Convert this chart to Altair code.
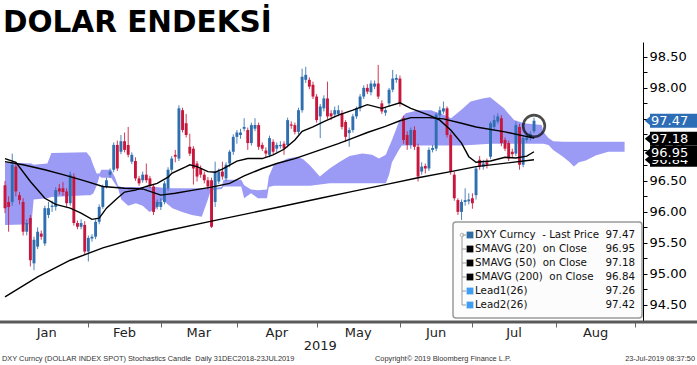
import altair as alt
import pandas as pd

# ---------------- data ----------------
TITLE = "DOLAR ENDEKSİ"
# trading-day index: -1 = 31 Dec 2018, 0 = 1 Jan 2019 ... 145 = 23 Jul 2019
days = list(range(-1, 146))

opens = [96.43, 96.16, 96.16, 96.73, 96.27, 96.16, 95.68, 95.90, 95.17, 95.44,
         95.65, 95.49, 95.95, 96.08, 96.08, 96.38, 96.38, 96.33, 96.14, 96.57,
         95.82, 95.76, 95.79, 95.36, 95.57, 95.60, 95.84, 96.08, 96.41, 96.60,
         96.68, 97.08, 96.97, 97.14, 97.08, 96.81, 96.82, 96.54, 96.51, 96.60,
         96.54, 96.41, 96.08, 96.08, 96.16, 96.38, 96.68, 96.92, 96.86, 97.64,
         97.43, 97.05, 97.02, 96.78, 96.70, 96.60, 96.51, 96.51, 96.16, 96.49,
         96.65, 96.54, 96.78, 96.97, 97.21, 97.24, 97.34, 97.32, 97.11, 97.34,
         97.40, 97.08, 96.99, 96.92, 97.13, 97.02, 97.06, 97.10, 97.08, 97.41,
         97.40, 97.29, 97.64, 98.13, 98.13, 98.05, 97.86, 97.54, 97.67, 97.83,
         97.59, 97.57, 97.58, 97.59, 97.45, 97.27, 97.32, 97.54, 97.67, 97.86,
         98.00, 97.93, 98.02, 98.07, 97.75, 97.60, 97.75, 97.97, 98.13, 98.15,
         97.51, 97.24, 97.08, 97.32, 97.05, 96.65, 96.74, 96.70, 97.00, 97.02,
         97.56, 97.62, 97.67, 97.24, 96.60, 96.19, 96.00, 96.16, 96.17, 96.22,
         96.27, 96.84, 96.73, 96.80, 96.89, 97.37, 97.455, 97.51, 97.16, 97.11,
         96.97, 96.94, 97.37, 96.76, 97.16, 97.20, 97.30]
closes = [96.06, 96.08, 96.76, 96.33, 96.19, 95.68, 95.82, 95.22, 95.55, 95.68,
          95.60, 96.06, 96.06, 96.10, 96.35, 96.33, 96.32, 96.14, 96.60, 95.82,
          95.76, 95.82, 95.36, 95.58, 95.60, 95.84, 96.08, 96.41, 96.51, 96.65,
          97.08, 96.70, 97.14, 97.00, 96.92, 96.92, 96.54, 96.46, 96.60, 96.51,
          96.42, 96.00, 96.16, 96.16, 96.46, 96.68, 96.86, 96.89, 97.67, 97.32,
          97.24, 96.94, 96.70, 96.57, 96.60, 96.51, 96.41, 95.76, 96.65, 96.65,
          96.57, 96.76, 96.97, 97.21, 97.28, 97.28, 97.37, 97.11, 97.40, 97.40,
          97.05, 97.02, 96.94, 97.19, 96.97, 97.08, 97.08, 97.02, 97.48, 97.39,
          97.29, 97.64, 98.18, 98.21, 98.02, 97.86, 97.48, 97.70, 97.83, 97.54,
          97.54, 97.64, 97.64, 97.37, 97.21, 97.32, 97.54, 97.67, 97.86, 98.00,
          97.94, 98.07, 98.07, 97.86, 97.62, 97.64, 97.97, 98.15, 98.16, 97.75,
          97.16, 97.08, 97.32, 97.05, 96.57, 96.73, 96.70, 97.00, 97.03, 97.57,
          97.64, 97.67, 97.24, 96.65, 96.22, 96.00, 96.16, 96.19, 96.20, 96.14,
          96.70, 96.73, 96.78, 96.76, 97.43, 97.48, 97.54, 97.11, 97.02, 96.86,
          96.93, 97.40, 96.76, 97.19, 97.20, 97.26, 97.47]
highs = [96.50, 96.25, 96.94, 96.80, 96.32, 96.22, 95.88, 95.95, 95.60, 95.75,
         95.70, 96.10, 96.16, 96.18, 96.40, 96.45, 96.48, 96.38, 96.65, 96.62,
         95.86, 95.88, 95.85, 95.62, 95.64, 95.88, 96.12, 96.44, 96.55, 96.70,
         97.12, 97.15, 97.24, 97.28, 97.37, 96.96, 96.88, 96.58, 96.65, 96.78,
         96.58, 96.44, 96.20, 96.22, 96.50, 96.72, 96.90, 97.00, 97.72, 97.68,
         97.58, 97.26, 97.06, 96.82, 96.75, 96.65, 96.56, 96.55, 96.81, 96.70,
         96.81, 96.80, 97.00, 97.25, 97.32, 97.34, 97.51, 97.36, 97.44, 97.51,
         97.44, 97.12, 97.04, 97.23, 97.17, 97.12, 97.14, 97.14, 97.52, 97.46,
         97.44, 97.68, 98.31, 98.34, 98.17, 98.10, 97.90, 97.74, 97.88, 98.10,
         97.64, 97.70, 97.72, 97.64, 97.48, 97.36, 97.58, 97.70, 97.90, 98.04,
         98.06, 98.12, 98.12, 98.37, 97.80, 97.68, 98.00, 98.29, 98.22, 98.20,
         97.55, 97.30, 97.36, 97.38, 97.10, 96.80, 96.78, 97.04, 97.08, 97.60,
         97.70, 97.78, 97.70, 97.28, 96.65, 96.22, 96.20, 96.38, 96.30, 96.30,
         96.74, 96.90, 96.84, 96.86, 97.46, 97.56, 97.59, 97.56, 97.20, 97.15,
         97.02, 97.46, 97.42, 97.23, 97.26, 97.30, 97.52]
lows = [95.98, 95.68, 96.10, 96.25, 96.12, 95.62, 95.62, 95.12, 95.06, 95.40,
        95.55, 95.45, 95.90, 96.00, 96.02, 96.28, 96.26, 96.08, 96.10, 95.78,
        95.72, 95.72, 95.32, 95.20, 95.52, 95.56, 95.80, 96.05, 96.38, 96.55,
        96.64, 96.66, 96.93, 96.96, 96.88, 96.77, 96.50, 96.42, 96.47, 96.47,
        96.38, 95.95, 96.04, 96.03, 96.12, 96.34, 96.64, 96.80, 96.82, 97.28,
        97.20, 96.90, 96.44, 96.49, 96.55, 96.46, 96.36, 95.74, 96.08, 96.45,
        96.52, 96.50, 96.72, 96.92, 97.10, 97.18, 97.30, 97.00, 97.07, 97.30,
        97.00, 96.98, 96.88, 96.88, 96.93, 96.96, 97.02, 96.92, 97.04, 97.34,
        97.25, 97.25, 97.60, 98.08, 97.98, 97.82, 97.44, 97.19, 97.62, 97.50,
        97.48, 97.52, 97.54, 97.33, 97.13, 97.05, 97.28, 97.50, 97.62, 97.82,
        97.90, 97.88, 97.98, 97.82, 97.58, 97.55, 97.70, 97.93, 98.08, 97.70,
        97.10, 97.00, 97.02, 97.00, 96.49, 96.60, 96.62, 96.66, 96.96, 96.98,
        97.50, 97.58, 97.20, 96.60, 96.18, 95.95, 95.87, 96.10, 96.12, 96.05,
        96.20, 96.68, 96.68, 96.70, 96.85, 97.33, 97.42, 97.06, 96.98, 96.82,
        96.88, 96.90, 96.68, 96.72, 97.12, 97.15, 97.27]

sma20_day = [-1, 2, 6, 10, 13, 17, 20, 23, 25, 27, 30, 32, 35, 38, 41, 44, 45, 49, 50, 52,
             55, 57, 59, 63, 66, 70, 73, 76, 79, 81, 84, 87, 91, 95, 99, 103, 108, 111, 116, 119,
             122, 125, 127, 129, 133, 137, 140, 143, 145]
sma20_val = [96.86, 96.80, 96.49, 96.22, 96.12, 96.06, 95.98, 95.88, 95.90, 96.06,
             96.22, 96.32, 96.35, 96.41, 96.46, 96.56, 96.62, 96.73, 96.76, 96.73,
             96.65, 96.64, 96.69, 96.82, 96.86, 96.86, 96.92, 97.01, 97.16, 97.30,
             97.37, 97.455, 97.56, 97.64, 97.73, 97.67, 97.76, 97.67, 97.56, 97.48,
             97.32, 97.11, 96.89, 96.80, 96.82, 96.88, 96.87, 96.90, 96.97]
sma50_day = [-1, 4, 10, 15, 21, 26, 32, 37, 42, 46, 51, 56, 61, 65, 70, 74, 79, 83, 87, 91,
             95, 99, 104, 108, 111, 116, 120, 125, 129, 137, 145]
sma50_val = [96.81, 96.76, 96.68, 96.60, 96.50, 96.41, 96.38, 96.37, 96.27, 96.30,
             96.35, 96.40, 96.46, 96.58, 96.70, 96.78, 96.86, 96.94, 97.02, 97.10,
             97.19, 97.28, 97.38, 97.47, 97.52, 97.52, 97.50, 97.43, 97.37, 97.29, 97.19]
sma200_day = [-1, 8, 17, 26, 35, 44, 56, 65, 74, 86, 95, 104, 113, 122, 129, 145]
sma200_val = [94.63, 94.95, 95.22, 95.42, 95.57, 95.70, 95.85, 95.96, 96.07, 96.22,
              96.33, 96.44, 96.55, 96.65, 96.73, 96.84]

cloud_day = [-1, 6.3, 6.9, 10.7, 11.8, 21.5, 22.6, 23.4, 24.3, 25.1, 25.6, 28.3, 29.4, 30.2,
             31.1, 33, 35.1, 37, 38.9, 40.6, 42.5, 45.2, 47.9, 50.6, 53.3, 55, 55.8, 58.8,
             59.3, 64.2, 65, 66.9, 68.8, 71.3, 71.8, 73.2, 75.1, 77, 79.7, 81.3, 83.2, 85.9,
             88.6, 91.4, 94.1, 97.6, 100.3, 102.2, 104.1, 105, 105.8, 107.7, 108.5, 109.6,
             113.1, 116.6, 120.4, 122.1, 124.8, 127.5, 130.8, 132.9, 136.7, 139.5, 142.2,
             147.1, 147.6, 149, 150.3, 153, 154.7, 156, 157.4, 159.3, 162, 165.5, 170]
cloud_top = [96.80, 96.78, 96.76, 96.78, 96.95, 96.96, 96.88, 96.75, 96.62, 96.62, 96.68,
             96.68, 96.55, 96.42, 96.40, 96.40, 96.40, 96.40, 96.40, 96.40, 96.39, 96.38,
             96.38, 96.38, 96.38, 96.38, 96.38, 96.40, 96.52, 96.52, 96.43, 96.36, 96.35,
             96.36, 96.57, 96.76, 96.81, 96.86, 96.89, 96.85, 96.75, 96.57, 96.70, 96.81,
             96.90, 96.94, 96.92, 96.86, 96.92, 97.05, 97.16, 97.45, 97.52, 97.59, 97.64,
             97.64, 97.56, 97.51, 97.64, 97.78, 97.83, 97.85, 97.67, 97.48, 97.43, 97.40,
             97.29, 97.19, 97.14, 97.13, 97.13, 97.13, 97.13, 97.13, 97.13, 97.13, 97.13]
cloud_bottom = [95.79, 95.80, 96.20, 96.22, 96.24, 96.27, 96.27, 96.30, 96.42, 96.58, 96.55,
                96.55, 96.45, 96.38, 96.20, 96.10, 96.14, 96.10, 96.00, 96.05, 96.19, 96.06,
                96.00, 95.95, 95.92, 96.20, 96.35, 96.37, 96.41, 96.41, 96.22, 96.30, 96.22,
                96.22, 96.40, 96.42, 96.42, 96.42, 96.42, 96.42, 96.42, 96.44, 96.46, 96.46,
                96.46, 96.46, 96.46, 96.46, 96.46, 96.60, 96.80, 97.00, 97.07, 97.07, 97.07,
                97.07, 97.07, 97.07, 97.07, 97.08, 97.09, 97.10, 97.10, 97.10, 97.10, 97.10,
                97.10, 97.08, 97.00, 96.89, 96.81, 96.73, 96.80, 96.83, 96.91, 96.97, 96.97]

month_names = ["Jan", "Feb", "Mar", "Apr", "May", "Jun", "Jul", "Aug"]
month_end_day = [-1, 22, 42, 63, 85, 108, 128, 151, 173]   # last trading day of each month
year_label = "2019"

NB = "\u00a0"
legend_labels = ["DXY Curncy" + NB + " - Last Price",
                 "SMAVG (20)" + NB * 2 + "on Close",
                 "SMAVG (50)" + NB * 2 + "on Close",
                 "SMAVG (200)" + NB * 2 + "on Close",
                 "Lead1(26)", "Lead2(26)"]
legend_values = ["97.47", "96.95", "97.18", "96.84", "97.26", "97.42"]
legend_colors = ["#2e6da4", "#000000", "#000000", "#000000", "#3d9ef2", "#3d9ef2"]

tag_black_values = [96.84, 96.95, 97.18]

footer_left = "DXY Curncy (DOLLAR INDEX SPOT) Stochastics Candle" + NB * 2 + "Daily 31DEC2018-23JUL2019"
footer_mid = "Copyright\u00a9 2019 Bloomberg Finance L.P."
footer_right = "23-Jul-2019 08:37:50"

for arr in (opens, closes, highs, lows):
    assert len(arr) == len(days), len(arr)
assert len(sma20_day) == len(sma20_val)
assert len(sma50_day) == len(sma50_val)
assert len(sma200_day) == len(sma200_val)
assert len(cloud_day) == len(cloud_top) == len(cloud_bottom)

# ---------------- layout / style ----------------
W, H = 643, 279
BLUE, RED = "#2f6fb0", "#c8173d"
CLOUD = "#9b9bf6"
FONT = "DejaVu Sans"
LFONT = "Liberation Sans"

xscale = alt.Scale(domain=[-1, 173.7], nice=False, zero=False)
yscale = alt.Scale(domain=[94.24, 98.74], nice=False, zero=False)
xaxis = alt.Axis(values=month_end_day[1:], labels=False, ticks=True, tickSize=6,
                 tickColor="#666666", domain=False, grid=False, title=None)
yaxis = alt.Axis(orient="right", values=[94.5 + 0.25 * k for k in range(17)],
                 labelExpr="(datum.value * 4) % 2 == 0 ? format(datum.value, '.2f') : ''",
                 tickSize=4, tickColor="black", domainColor="black", domainWidth=1,
                 labelFont=FONT, labelFontSize=13, labelColor="black", labelPadding=2,
                 labelOverlap=False, grid=False, title=None)


def X(field):
    return alt.X(field, type="quantitative", scale=xscale, axis=xaxis, title=None)


def Y(field):
    return alt.Y(field, type="quantitative", scale=yscale, axis=yaxis, title=None)


def one(text):
    return alt.Chart(pd.DataFrame({"t": [text]}))


candles = pd.DataFrame({"day": days, "open": opens, "close": closes, "high": highs, "low": lows})
candles["dir"] = ["up" if c >= o else "down" for o, c in zip(opens, closes)]
dir_color = alt.Color("dir:N", scale=alt.Scale(domain=["up", "down"], range=[BLUE, RED]), legend=None)

cloud_df = pd.DataFrame({"day": cloud_day, "top": cloud_top, "bottom": cloud_bottom})
sma_df = pd.concat([
    pd.DataFrame({"s": "20", "day": sma20_day, "v": sma20_val}),
    pd.DataFrame({"s": "50", "day": sma50_day, "v": sma50_val}),
    pd.DataFrame({"s": "200", "day": sma200_day, "v": sma200_val}),
])

layers = []
layers.append(alt.Chart(cloud_df).mark_area(color=CLOUD, clip=True).encode(
    x=X("day"), y=Y("top"), y2="bottom"))
layers.append(alt.Chart(candles).mark_rule(strokeWidth=1, clip=True, opacity=0.85).encode(
    x=X("day"), y=Y("low"), y2="high", color=dir_color))
layers.append(alt.Chart(candles).mark_bar(size=2.9, clip=True).encode(
    x=X("day"), y=Y("open"), y2="close", color=dir_color))
layers.append(alt.Chart(sma_df).mark_line(color="black", strokeWidth=1.4, clip=True).encode(
    x=X("day"), y=Y("v"), detail="s:N"))

# highlight circle around the last candle
last = pd.DataFrame({"day": [days[-1]], "mid": [(opens[-1] + closes[-1]) / 2]})
layers.append(alt.Chart(last).mark_point(shape="circle", size=470, filled=False,
                                         stroke="black", strokeWidth=2.6).encode(
    x=X("day"), y=Y("mid")))

# bottom axis band and month labels
layers.append(one("").mark_rule(color="#5a5a5a", strokeWidth=3).encode(
    x=alt.value(0), x2=alt.value(697), y=alt.value(H + 1)))
mid_days = [(a + b) / 2 for a, b in zip(month_end_day[:-1], month_end_day[1:])]
months_df = pd.DataFrame({"m": month_names, "day": mid_days})
layers.append(alt.Chart(months_df).mark_text(font=FONT, fontSize=13, color="#222222",
                                              baseline="middle").encode(
    x=X("day"), y=alt.value(291), text="m:N"))
year_df = pd.DataFrame({"m": [year_label], "day": [(month_end_day[0] + month_end_day[-1]) / 2]})
layers.append(alt.Chart(year_df).mark_text(font=FONT, fontSize=13, color="#222222",
                                           baseline="middle").encode(
    x=X("day"), y=alt.value(304), text="m:N"))

# title and footer
layers.append(one(TITLE).mark_text(font=FONT, fontSize=29.5, fontWeight="bold", color="black",
                                   align="left", baseline="alphabetic").encode(
    x=alt.value(3), y=alt.value(-10), text="t:N"))
for txt, xx, al in [(footer_left, 2, "left"), (footer_mid, 443, "center"), (footer_right, 695, "right")]:
    layers.append(one(txt).mark_text(font=LFONT, fontSize=7.4, color="#333333", align=al,
                                     baseline="middle").encode(
        x=alt.value(xx), y=alt.value(317), text="t:N"))

# legend box
LX0, LX1, LY0, LY1 = 453, 642, 180, 276
layers.append(one("").mark_rect(fill="#fcfcfc", stroke="#9a9a9a", strokeWidth=1.5,
                                cornerRadius=3).encode(
    x=alt.value(LX0), x2=alt.value(LX1), y=alt.value(LY0), y2=alt.value(LY1)))
row_y = [LY0 + 13 + 14 * k for k in range(len(legend_labels))]
layers.append(one("").mark_rule(color="#9a9a9a", strokeWidth=1).encode(
    x=alt.value(462), y=alt.value(row_y[0] + 2), y2=alt.value(row_y[-1])))
layers.append(one("").mark_point(shape="circle", size=14, filled=False, color="#9a9a9a",
                                 strokeWidth=1).encode(x=alt.value(462), y=alt.value(row_y[0])))
for lab, val, col, ry in zip(legend_labels, legend_values, legend_colors, row_y):
    layers.append(one("").mark_rule(color="#9a9a9a", strokeWidth=1).encode(
        x=alt.value(462), x2=alt.value(466), y=alt.value(ry)))
    layers.append(one("").mark_square(size=46, color=col, opacity=1).encode(
        x=alt.value(470), y=alt.value(ry)))
    layers.append(one(lab).mark_text(font=FONT, fontSize=10.3, color="#111111", align="left",
                                     baseline="middle").encode(
        x=alt.value(475), y=alt.value(ry), text="t:N"))
    layers.append(one(val).mark_text(font=FONT, fontSize=10.3, color="#111111", align="right",
                                     baseline="middle").encode(
        x=alt.value(635), y=alt.value(ry), text="t:N"))

# price tags on the right axis
ARROW = "M 0.6 -1 L -0.6 0 L 0.6 1 Z"


def tag(value, color):
    d = pd.DataFrame({"v": [value], "lbl": [f"{value:.2f}"]})
    base = alt.Chart(d)
    return [
        base.mark_rule(color=color, strokeWidth=14, strokeCap="butt").encode(
            x=alt.value(650), x2=alt.value(697), y=Y("v")),
        base.mark_point(shape=ARROW, size=196, filled=True, color=color, opacity=1).encode(
            x=alt.value(649), y=Y("v")),
        base.mark_text(font=FONT, fontSize=13, color="white", align="left",
                       baseline="middle").encode(x=alt.value(651), y=Y("v"), text="lbl:N"),
    ]


for v in tag_black_values:
    layers += tag(v, "#000000")
layers += tag(closes[-1], "#2d6db5")

chart = alt.layer(*layers).properties(
    width=W, height=H,
    autosize=alt.AutoSizeParams(type="none"),
    padding={"left": 0, "top": 42, "right": 54, "bottom": 44},
    background="white",
).configure_view(stroke=None)

chart.save("out.html", embed_options={"renderer": "svg", "actions": False})
